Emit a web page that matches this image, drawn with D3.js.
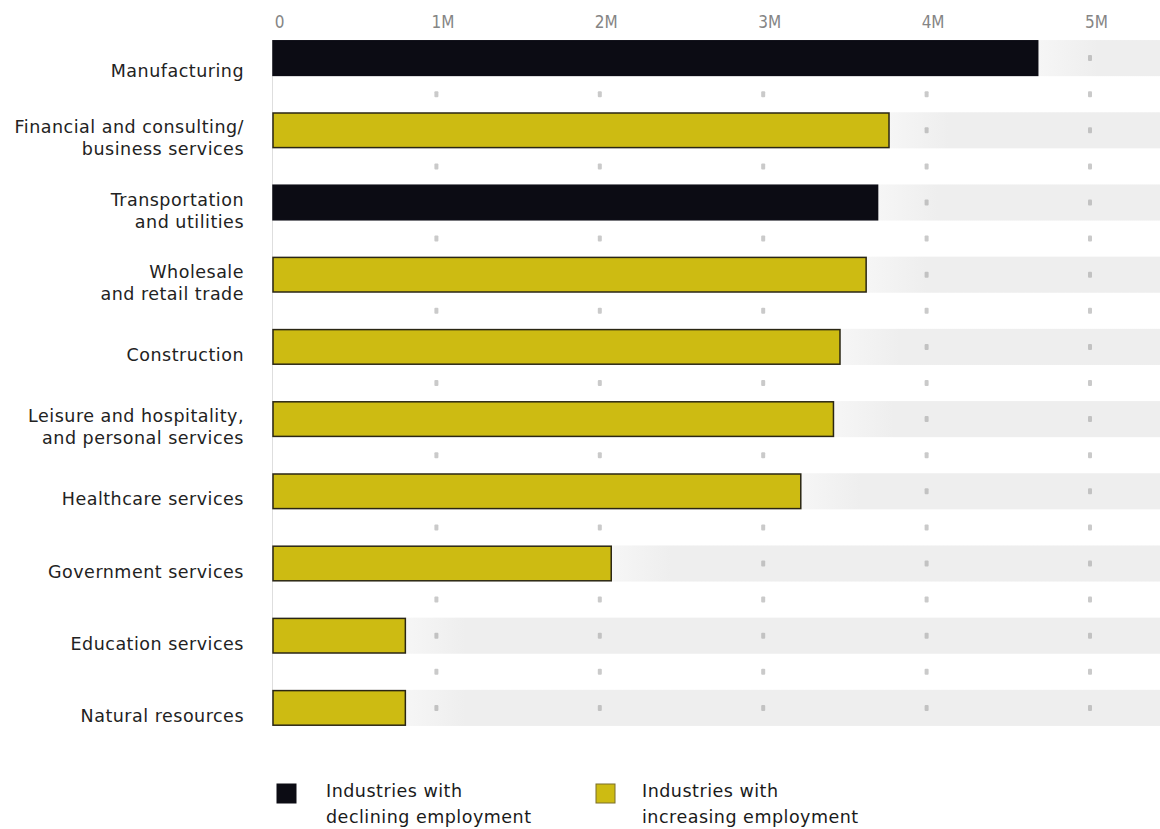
<!DOCTYPE html>
<html>
<head>
<meta charset="utf-8">
<script src="https://cdn.jsdelivr.net/npm/d3@7"></script>
<style>
  html, body { margin: 0; padding: 0; background: #ffffff; }
  svg { display: block; }
</style>
</head>
<body>
<svg id="chart" width="1160" height="829"></svg>
<script>
// ---- data ----
const categories = [
  ["Manufacturing"],
  ["Financial and consulting/", "business services"],
  ["Transportation", "and utilities"],
  ["Wholesale", "and retail trade"],
  ["Construction"],
  ["Leisure and hospitality,", "and personal services"],
  ["Healthcare services"],
  ["Government services"],
  ["Education services"],
  ["Natural resources"]
];
const values = [4.68, 3.77, 3.70, 3.63, 3.47, 3.43, 3.23, 2.07, 0.81, 0.81]; // millions
const trend = ["declining", "increasing", "declining", "increasing", "increasing",
               "increasing", "increasing", "increasing", "increasing", "increasing"];
const tickValues = [0, 1, 2, 3, 4, 5];
const tickLabels = ["0", "1M", "2M", "3M", "4M", "5M"];
const legendKeys = ["declining", "increasing"];
const legendLabels = [["Industries with", "declining employment"], ["Industries with", "increasing employment"]];

// ---- layout ----
const svg = d3.select("#chart");
const W = 1160;
const FONT = "'DejaVu Sans', 'Open Sans', sans-serif";
const x = d3.scaleLinear().domain([0, 5]).range([273, 1090]);
const keys = categories.map((d, i) => i);
const y = d3.scaleBand().domain(keys).range([22, 744]).paddingInner(0.5).paddingOuter(0.25);
const color = d3.scaleOrdinal().domain(legendKeys).range(["#0c0c14", "#cdbb12"]);
const stroke = d3.scaleOrdinal().domain(legendKeys).range(["#0c0c14", "#2a2614"]);

const defs = svg.append("defs");

// background bands
keys.forEach(i => {
  const x0 = x(values[i]);
  const gid = "g" + i;
  const g = defs.append("linearGradient").attr("id", gid)
    .attr("gradientUnits", "userSpaceOnUse")
    .attr("x1", x0).attr("x2", x0 + 60).attr("y1", 0).attr("y2", 0);
  g.append("stop").attr("offset", 0).attr("stop-color", "#f6f6f6");
  g.append("stop").attr("offset", 1).attr("stop-color", "#eeeeee");
  svg.append("rect")
    .attr("x", x0).attr("y", y(i))
    .attr("width", W - x0).attr("height", y.bandwidth())
    .attr("fill", `url(#${gid})`);
});

// left axis line
svg.append("line")
  .attr("x1", x(0) - 0.5).attr("x2", x(0) - 0.5)
  .attr("y1", y(0)).attr("y2", y(keys.length - 1) + y.bandwidth())
  .attr("stroke", "#dedede").attr("stroke-width", 1);

// dots between rows
const dotTicks = tickValues.filter(t => t > 0);
for (let i = 0; i < keys.length - 1; i++) {
  const yy = y(i) + y.bandwidth() + (y.step() - y.bandwidth()) / 2;
  dotTicks.forEach(t => {
    svg.append("rect").attr("x", x(t) - 2).attr("y", yy - 3)
      .attr("width", 4).attr("height", 6).attr("rx", 1)
      .attr("fill", "#cacaca");
  });
}
// dots inside bands, right of bar end
keys.forEach(i => {
  const yy = y(i) + y.bandwidth() / 2;
  dotTicks.filter(t => t > values[i]).forEach(t => {
    svg.append("rect").attr("x", x(t) - 2).attr("y", yy - 3)
      .attr("width", 4).attr("height", 6).attr("rx", 1)
      .attr("fill", "#c2c2c2");
  });
});

// bars
svg.selectAll("rect.bar").data(keys).enter().append("rect")
  .attr("class", "bar")
  .attr("x", x(0))
  .attr("y", i => y(i) + 0.75)
  .attr("width", i => x(values[i]) - x(0))
  .attr("height", y.bandwidth() - 1.5)
  .attr("fill", i => color(trend[i]))
  .attr("stroke", i => stroke(trend[i]))
  .attr("stroke-width", 1.5);

// top axis
const axis = d3.axisTop(x).tickValues(tickValues).tickFormat((d, i) => tickLabels[i]).tickSize(0);
const ax = svg.append("g").attr("transform", "translate(6,31)").call(axis);
ax.select(".domain").remove();
ax.selectAll("text")
  .attr("font-family", FONT)
  .attr("font-stretch", "condensed")
  .attr("font-size", 17)
  .attr("fill", "#858585");

// category labels
keys.forEach(i => {
  const lines = categories[i];
  const cy = y(i) + y.bandwidth() / 2 + (lines.length === 1 && i === 0 ? 13 : 8);
  const lh = 22;
  const t = svg.append("text")
    .attr("text-anchor", "end")
    .attr("font-family", FONT)
    .attr("font-size", 17.5)
    .attr("letter-spacing", 0.5)
    .attr("fill", "#222");
  lines.forEach((l, k) => {
    t.append("tspan")
      .attr("x", 244)
      .attr("y", cy + (k - (lines.length - 1) / 2) * lh)
      .attr("dy", "0.35em")
      .text(l);
  });
});

// legend
const legX = [277, 596];
const textX = [326, 642];
legendKeys.forEach((k, i) => {
  svg.append("rect")
    .attr("x", legX[i]).attr("y", 784)
    .attr("width", 19).attr("height", 19)
    .attr("fill", color(k))
    .attr("stroke", k === "declining" ? color(k) : "#7a6e2a")
    .attr("stroke-width", 1);
  const t = svg.append("text")
    .attr("font-family", FONT)
    .attr("font-size", 17.5)
    .attr("letter-spacing", 0.5)
    .attr("fill", "#1a1a1a");
  legendLabels[i].forEach((l, j) => {
    t.append("tspan").attr("x", textX[i]).attr("y", 797 + j * 26).text(l);
  });
});
</script>
</body>
</html>
